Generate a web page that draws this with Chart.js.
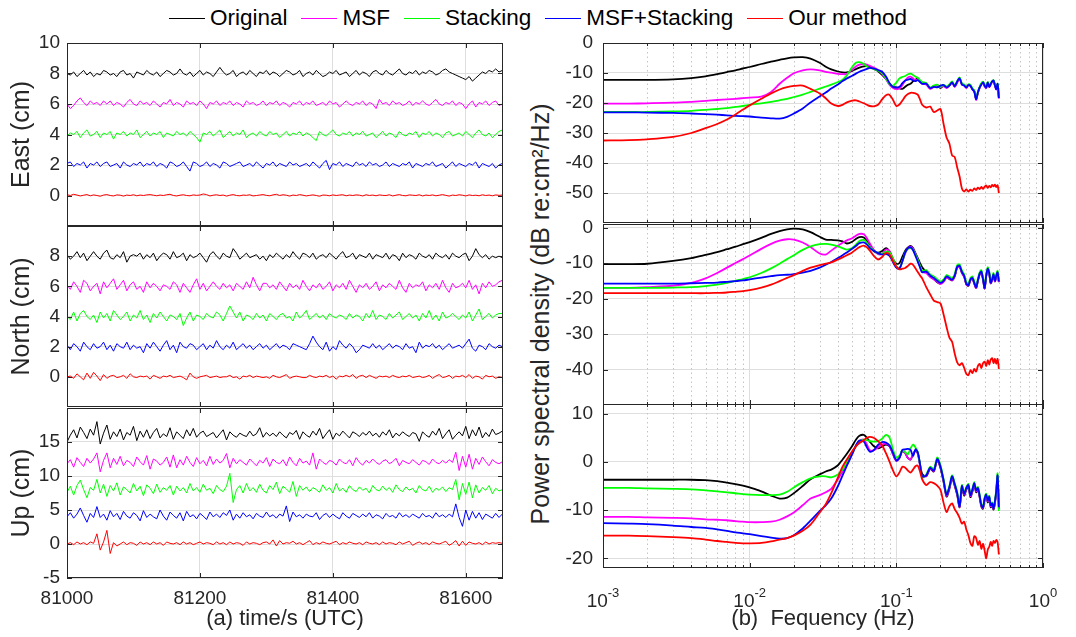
<!DOCTYPE html>
<html>
<head>
<meta charset="utf-8">
<script src="https://cdn.jsdelivr.net/npm/chart.js@4.4.0/dist/chart.umd.min.js"></script>
<style>
  body { margin: 0; background: #fff; width: 1076px; height: 637px; position: relative; overflow: hidden;
         font-family: "Liberation Sans", Arial, Helvetica, sans-serif; color: #262626; }
  canvas { display: block; }
  #legend { position: absolute; top: 5px; left: 0; width: 1076px; display: flex; justify-content: center;
            gap: 14px; font-size: 22.5px; color: #000; }
  #legend .item { display: flex; align-items: center; white-space: nowrap; }
  #legend .item i { display: inline-block; width: 36px; border-top: 1.5px solid; margin-right: 5px; }
  #psdTitle { position: absolute; left: 540px; top: 314px; transform: translate(-50%, -50%) rotate(-90deg);
              white-space: nowrap; font-size: 25px; }
</style>
</head>
<body>
<div id="legend"></div>
<div id="psdTitle">Power spectral density (dB re:cm²/Hz)</div>
<script>
// ---- data ----
const seriesNames = ['Original', 'MSF', 'Stacking', 'MSF+Stacking', 'Our method'];

// (a) time series, one sample every 5 s starting at 81000 s
const tStart = 81000, tStep = 5;
const timeTicks = [81000, 81200, 81400, 81600];

const eastOrig = [8.0,7.9,8.1,7.8,8.0,8.2,7.9,8.1,7.8,8.0,7.9,8.2, 8.1,7.9,8.0,7.8,8.1,8.2,7.9,8.0,7.7,8.1,8.0,7.9,
  8.2,8.0,7.9,8.1,7.8,8.0,8.2,8.1,7.9,8.0,8.3,8.0, 7.9,8.1,7.8,8.0,8.2,7.9,8.1,8.0,7.8,8.1,8.4,8.1,
  7.9,8.0,8.2,7.8,8.0,8.1,7.9,8.2,8.0,7.8,8.1,8.0, 8.2,7.9,8.1,8.0,7.8,8.0,8.2,8.1,7.9,8.0,8.2,7.8,
  8.0,8.1,7.9,8.2,8.0,7.8,7.9,8.1,8.0,8.2,7.9,8.0, 8.1,7.8,8.0,8.2,7.9,8.1,8.0,7.8,8.1,8.2,8.0,7.9,
  8.2,8.0,7.9,8.1,8.3,8.0,7.9,8.1,8.0,8.2,7.9,8.1, 8.0,8.2,8.1,7.9,8.0,8.2,8.3,8.1,8.0,7.9,7.8,7.7,
  7.6,7.8,7.5,7.7,7.9,8.1,8.0,8.2,8.1,8.3,8.1,8.2];
const eastMsf = [6.0,5.7,5.9,6.2,6.4,6.1,5.9,6.2,6.0,6.1,5.9,6.2, 6.0,6.2,5.9,6.1,6.0,5.8,6.1,6.3,6.0,5.9,6.2,6.0,
  6.1,5.9,6.2,6.0,5.8,6.1,6.0,6.3,5.9,6.1,6.0,5.8, 6.2,6.0,6.1,5.9,6.2,6.0,5.7,6.1,6.0,6.2,5.9,6.1,
  6.0,6.2,5.9,6.1,6.0,5.8,6.2,6.0,6.1,5.9,6.0,6.2, 5.9,6.1,6.0,6.2,5.9,6.1,6.0,5.8,6.1,6.0,6.2,5.9,
  6.1,6.0,6.2,5.9,6.0,6.1,5.9,6.2,6.0,6.1,5.8,6.0, 6.2,6.0,5.9,6.1,6.0,6.2,5.9,6.1,6.0,5.7,6.3,6.0,
  6.1,5.9,6.2,6.0,6.1,5.9,6.0,6.2,5.9,6.1,6.0,6.2, 6.0,5.9,6.1,6.3,6.0,5.9,6.1,6.0,6.2,5.9,6.1,6.0,
  5.7,6.0,6.2,5.8,6.1,6.0,6.2,5.9,6.1,6.2,5.9,6.0];
const eastStk = [3.9,4.1,4.0,4.2,3.8,4.1,4.3,3.9,4.0,4.2,3.8,4.1, 4.0,4.2,3.7,4.1,4.0,4.2,3.9,4.1,4.0,4.3,3.8,4.0,
  4.2,3.9,4.1,4.0,4.2,3.8,4.1,4.0,3.9,4.2,4.0,4.1, 3.9,4.2,4.0,3.8,3.5,4.1,4.0,4.2,3.9,4.1,4.3,3.8,
  4.0,4.2,3.9,4.1,4.0,4.3,3.8,4.0,4.1,3.9,4.2,4.0, 3.9,4.2,4.0,4.1,3.8,4.0,4.2,3.9,4.1,4.0,4.2,3.9,
  4.1,4.0,3.8,3.6,4.2,4.0,3.9,4.1,4.3,4.0,3.9,4.1, 4.0,4.2,3.9,4.1,4.0,4.2,3.9,4.0,4.1,3.8,4.0,4.2,
  3.9,4.1,4.0,3.8,4.2,4.0,3.9,4.1,4.0,4.2,3.8,4.1, 4.0,4.2,3.9,4.1,4.0,3.8,4.1,4.2,3.9,4.0,4.1,3.9,
  4.2,4.0,3.8,4.1,4.3,4.0,3.9,4.1,3.8,4.0,4.2,4.3];
const eastMs = [2.1,2.2,1.9,2.1,2.0,2.2,1.8,2.1,2.0,2.2,1.9,2.1, 2.2,1.9,2.0,2.1,1.8,2.2,2.0,1.9,2.1,2.0,2.2,1.9,
  2.1,2.0,2.2,1.9,2.1,2.0,1.8,2.2,2.1,1.9,2.0,2.2, 1.9,1.6,2.2,2.1,1.9,2.0,2.2,1.9,2.1,2.0,1.8,2.2,
  2.1,1.9,2.0,2.1,2.2,1.9,2.0,2.1,1.9,2.2,2.0,1.8, 2.1,2.0,2.2,1.9,2.1,2.0,1.9,2.2,2.0,2.1,1.9,2.0,
  2.1,1.9,2.2,2.0,1.8,2.1,2.3,1.7,2.1,2.0,2.2,1.9, 2.1,2.0,1.9,2.2,2.0,2.1,1.9,2.2,2.0,2.1,1.9,2.0,
  2.2,1.9,2.1,2.0,1.9,2.1,2.0,2.2,1.8,2.1,2.0,1.9, 2.1,2.0,2.2,1.9,2.0,2.1,1.8,2.0,2.2,1.9,2.1,2.0,
  1.9,2.1,2.0,2.2,1.8,2.1,2.0,1.9,2.1,1.8,2.0,2.1];
const eastOur = [0.05,0.00,0.08,0.03,-0.03,0.02,0.06,-0.02,0.04,0.00,-0.05,0.03, 0.06,0.00,-0.03,0.04,0.02,-0.04,0.03,0.00,0.05,-0.02,0.03,0.00,
  0.04,0.06,0.02,-0.02,0.03,0.00,0.05,0.08,0.00,-0.03,0.02,0.05, 0.00,-0.02,0.04,0.01,0.03,0.10,0.06,-0.03,0.02,0.05,0.00,0.03,
  -0.04,0.02,0.06,0.00,-0.02,0.03,0.01,0.05,-0.03,0.00,0.03,0.06, 0.01,-0.02,0.04,0.08,0.00,0.05,0.02,-0.04,0.03,0.00,0.06,0.02,
  -0.03,0.01,0.04,0.00,-0.05,0.03,0.02,-0.02,0.04,0.00,0.03,0.05, -0.02,0.03,0.00,0.04,0.02,-0.03,0.05,0.00,0.03,-0.02,0.04,0.01,
  0.00,0.05,-0.03,0.02,0.06,0.00,-0.02,0.04,0.02,0.00,0.05,-0.03, 0.03,0.00,0.04,-0.02,0.02,0.06,0.01,-0.04,0.03,0.00,0.05,0.02,
  -0.03,0.04,0.00,0.02,-0.02,0.05,0.00,0.03,-0.02,0.04,0.01,0.03];

const northOrig = [8.1,7.8,8.0,8.3,7.9,8.2,7.7,8.0,8.3,8.0,7.8,8.2, 8.4,7.9,7.8,8.1,7.9,8.3,7.6,8.0,8.1,8.0,8.2,7.8,
  8.1,7.9,8.2,7.7,8.0,8.2,8.1,7.8,8.3,7.9,8.0,8.2, 7.7,8.1,7.9,8.0,8.2,7.9,7.6,8.1,8.3,8.0,7.8,8.2,
  8.0,7.9,8.5,8.2,7.8,8.0,8.2,7.9,8.0,8.1,7.8,8.0, 7.7,8.1,7.9,8.2,8.0,7.8,8.1,7.9,8.3,8.0,7.8,8.2,
  8.1,7.9,8.2,7.8,8.0,8.1,7.9,8.2,8.0,7.8,8.1,8.3, 7.9,8.0,8.2,7.8,8.1,8.0,7.9,8.2,7.8,8.1,8.0,7.9,
  8.2,7.8,8.1,8.0,7.7,8.2,7.9,8.1,8.0,7.8,8.2,8.0, 7.9,8.1,7.8,8.2,8.0,7.9,8.1,7.8,8.2,8.0,7.9,8.1,
  8.2,7.7,8.0,8.5,8.1,7.9,8.1,7.8,8.0,7.9,8.0,7.9];
const northMsf = [6.1,5.8,6.3,6.0,5.6,6.4,6.2,5.7,6.0,6.2,5.5,6.3, 5.9,6.2,6.5,5.8,6.1,6.4,5.7,6.1,6.3,5.8,6.0,5.6,
  6.3,5.9,6.2,6.0,5.7,6.1,6.0,5.8,6.3,6.1,5.6,6.2, 5.9,5.6,6.1,6.5,5.8,6.2,5.7,6.0,6.3,6.0,5.8,6.2,
  5.9,6.1,5.7,6.2,6.0,5.8,6.3,5.9,6.6,6.1,5.7,6.2, 6.2,5.9,6.1,5.8,6.3,6.0,5.7,6.2,5.9,6.1,5.8,6.4,
  6.0,5.7,6.1,5.9,6.2,5.8,6.0,6.3,5.7,6.1,5.9,6.2, 5.8,6.4,6.0,5.6,6.1,5.9,6.2,5.8,6.0,6.3,5.7,6.1,
  5.9,6.2,6.0,5.8,6.4,5.9,5.6,6.2,5.9,6.1,6.0,6.3, 5.7,6.1,5.9,6.2,5.8,6.4,5.9,5.6,6.2,5.9,6.0,6.2,
  5.9,6.4,5.8,6.1,5.5,6.2,5.9,6.3,6.0,6.1,6.3,6.4];
const northStk = [4.0,3.8,4.3,3.7,4.2,4.4,4.0,3.8,4.1,3.6,4.3,3.9, 4.2,3.7,4.4,4.1,3.8,4.0,4.3,3.7,4.1,3.9,4.4,3.8,
  4.1,3.6,4.2,3.9,4.3,4.0,3.7,4.1,4.0,3.8,4.2,3.4, 3.9,4.3,3.7,4.1,4.0,3.8,4.2,4.0,3.9,4.3,4.1,3.7,
  4.2,4.7,4.3,3.9,4.3,3.7,4.1,4.0,3.8,4.2,3.9,4.1, 3.7,4.2,4.0,3.8,4.1,4.2,3.9,4.0,3.7,4.3,3.9,4.1,
  4.4,3.8,4.0,4.2,3.9,4.1,3.8,4.2,4.0,3.9,4.1,4.0, 3.8,4.2,3.9,4.1,4.0,3.7,4.2,3.9,4.4,3.8,4.1,4.0,
  3.8,4.2,3.9,4.1,4.3,3.8,4.0,4.2,3.9,4.1,3.7,4.2, 3.9,4.4,3.8,4.1,3.7,4.3,3.9,4.0,4.2,4.0,3.8,4.1,
  3.9,4.3,3.7,4.1,4.5,3.8,4.0,4.2,3.9,4.1,4.2,4.2];
const northMs = [2.1,1.8,2.2,2.0,1.7,2.3,2.0,1.8,2.2,1.9,2.0,2.3, 1.8,2.1,1.7,2.2,2.0,1.9,2.3,1.8,2.1,1.9,2.0,1.6,
  2.2,1.9,2.3,2.0,1.7,2.1,2.4,1.8,2.1,1.6,2.3,2.0, 1.9,2.2,2.1,1.8,2.0,2.2,1.8,2.1,1.9,2.4,2.0,1.8,
  2.1,1.9,2.3,1.8,2.0,2.2,1.9,2.1,1.8,2.0,2.2,1.9, 2.1,1.8,2.0,2.2,1.9,2.1,2.0,1.8,2.2,2.1,2.0,1.9,
  1.8,2.2,2.7,2.3,2.0,1.8,2.3,1.7,2.0,1.8,2.4,2.1, 1.9,2.2,2.0,1.6,1.8,2.1,2.0,1.9,2.2,1.9,2.1,1.8,
  2.0,2.2,1.9,2.1,2.0,1.8,2.2,1.9,2.0,1.6,2.3,1.9, 2.1,2.0,2.2,1.9,2.1,1.8,2.0,2.2,1.9,2.0,2.1,1.9,
  2.2,2.5,1.9,1.7,2.1,2.0,1.8,2.2,2.0,1.9,2.1,2.0];
const northOur = [0.00,0.05,-0.10,0.20,0.00,-0.20,0.25,-0.10,0.30,0.05,-0.25,0.15, -0.10,0.05,0.10,-0.05,0.00,0.10,-0.10,0.20,0.00,-0.05,0.05,0.00,
  0.05,-0.15,0.10,0.00,-0.10,0.05,0.00,0.10,-0.05,0.00,0.05,-0.05, -0.20,0.25,0.00,-0.10,0.00,0.05,0.10,-0.05,0.00,0.05,-0.05,0.00,
  0.00,0.10,-0.05,0.00,-0.15,0.05,0.00,0.10,-0.05,0.05,0.00,-0.05, 0.00,-0.10,0.10,0.00,-0.05,0.05,0.15,-0.10,0.00,0.05,0.00,-0.05,
  -0.05,0.10,0.00,-0.05,0.05,0.00,0.10,-0.05,0.05,-0.15,0.05,0.00, 0.10,0.00,0.15,-0.10,0.05,0.10,-0.05,0.10,0.00,-0.10,0.05,0.00,
  0.05,-0.05,0.10,0.00,-0.05,0.05,0.00,0.10,-0.05,0.00,0.05,-0.05, 0.00,0.10,-0.10,0.05,0.15,-0.05,0.00,0.10,-0.10,0.05,0.00,0.10,
  -0.05,0.15,-0.10,0.05,0.00,-0.15,0.10,0.00,0.05,-0.10,0.00,-0.05];

const upOrig = [15.0,16.0,16.8,15.6,17.2,16.4,15.5,16.9,16.0,18.0,14.7,16.3, 17.5,15.4,16.5,15.8,16.9,15.3,16.4,16.0,17.3,15.2,16.6,15.7,
  16.8,15.5,16.4,17.0,15.6,16.2,15.8,17.1,15.4,16.5,16.0,15.5, 16.8,15.9,17.0,15.7,16.3,16.6,15.8,16.1,16.4,15.6,16.2,16.8,
  15.3,16.5,16.0,15.7,16.3,16.0,15.8,16.6,15.9,16.2,17.1,15.7, 16.4,15.9,16.3,15.8,16.5,16.0,15.6,16.4,16.1,16.7,15.4,16.5,
  16.0,15.7,16.6,16.0,17.0,15.5,16.2,16.8,15.4,16.3,15.9,16.6, 16.1,15.6,16.5,16.2,15.8,16.4,16.0,16.6,15.9,16.3,15.7,16.5,
  16.0,16.8,15.6,16.3,15.9,16.5,16.1,15.8,16.4,16.2,15.1,16.5, 16.0,15.7,16.6,16.0,17.0,15.5,16.2,16.8,15.4,16.0,16.5,15.9,
  17.3,15.5,16.8,15.9,17.2,15.6,16.4,15.8,16.9,16.1,16.3,16.6];
const upMsf = [11.8,12.4,11.3,12.7,12.0,11.4,12.6,11.9,12.5,13.4,10.6,12.3, 13.4,11.2,12.6,11.7,12.9,11.5,12.3,12.0,11.4,12.8,12.1,11.6,
  13.0,11.0,12.5,12.2,11.6,12.0,12.8,11.3,13.1,11.2,12.4,11.6, 12.9,12.0,11.4,12.7,11.8,12.3,11.5,12.9,11.7,12.5,11.9,12.3,
  13.3,11.2,12.6,11.8,12.4,12.0,11.6,12.5,12.0,11.5,12.3,11.9, 12.7,11.4,12.5,12.0,11.8,12.4,11.5,12.8,12.0,11.5,12.6,11.9,
  12.2,11.6,13.4,11.0,12.5,12.0,11.7,12.3,12.1,11.6,12.5,12.0, 11.8,12.4,11.5,12.7,12.0,11.6,12.3,11.9,12.5,12.0,11.7,12.2,
  12.4,11.8,12.1,12.6,11.5,12.3,12.0,11.8,12.4,12.0,11.6,12.3, 12.1,11.7,12.5,12.0,11.8,12.3,11.9,12.4,12.0,13.5,10.8,12.9,
  11.3,13.2,11.0,12.6,11.7,12.8,12.1,11.5,12.4,12.0,11.8,12.1];
const upStk = [7.6,8.5,7.2,8.6,9.4,8.0,6.8,8.3,7.9,9.5,7.5,8.8, 7.0,8.6,7.8,9.0,7.2,8.4,8.0,7.5,8.9,7.8,8.5,7.1,
  8.7,8.2,7.4,8.8,7.6,8.3,7.9,8.6,7.2,8.5,7.8,8.3, 7.5,8.9,7.8,8.3,7.6,8.8,7.9,8.2,7.4,8.6,8.0,7.7,
  8.5,10.4,6.1,8.0,8.6,7.5,8.9,7.8,8.3,7.6,8.8,7.9, 7.5,8.6,8.0,9.1,7.4,8.5,8.1,7.6,9.2,7.0,8.6,7.9,
  8.4,7.7,8.3,8.0,7.6,8.7,7.9,8.3,7.5,8.9,7.8,8.2, 7.6,8.6,8.0,7.7,8.4,7.9,8.2,7.5,8.6,8.0,7.8,8.5,
  7.9,8.3,7.6,8.7,8.0,7.7,8.4,7.9,8.2,7.5,8.6,8.0, 7.8,8.5,7.6,8.2,7.9,8.4,7.7,8.3,8.0,9.5,6.5,8.9,
  7.3,9.1,6.8,8.7,7.5,8.3,7.9,8.6,7.4,8.2,7.8,8.0];
const upMs = [4.0,4.6,3.8,4.4,5.3,4.2,3.2,4.5,3.9,5.5,3.9,4.4, 3.5,4.9,4.0,4.5,3.6,4.8,4.1,3.8,4.6,4.2,3.4,4.9,
  3.9,4.4,4.0,3.7,5.0,4.1,3.5,4.7,4.2,3.8,4.6,3.4, 4.8,4.0,4.3,3.7,4.5,4.1,3.6,4.7,4.0,4.4,3.9,4.6,
  4.2,5.0,3.5,4.4,3.8,4.6,4.0,4.3,3.7,4.5,4.1,3.9, 4.7,4.0,4.3,3.8,4.4,4.1,5.6,3.3,4.7,4.0,4.3,3.8,
  4.4,4.1,4.0,4.6,3.6,4.2,4.5,3.9,4.4,4.0,3.7,4.6, 4.1,3.8,4.5,4.2,3.9,4.4,4.0,4.6,3.8,4.3,4.1,3.7,
  4.5,4.0,4.2,3.8,4.6,4.0,4.3,3.9,4.4,4.1,3.8,4.5, 4.0,4.2,3.8,4.6,4.0,4.3,3.9,4.4,4.0,5.9,3.9,2.6,
  5.0,3.5,4.8,3.8,4.6,3.6,4.4,4.1,3.8,4.5,3.9,4.4];
const upOur = [0.0,0.2,-0.1,0.3,0.0,0.2,-0.1,0.3,0.1,1.5,-0.9,0.3, 2.0,-1.4,0.2,-0.3,0.0,0.3,-0.1,0.2,0.1,-0.2,0.3,0.0,
  0.2,-0.1,0.3,0.0,0.2,-0.2,0.3,0.1,0.0,0.2,-0.1,0.3, 0.0,0.2,-0.1,0.1,0.3,0.0,0.2,0.1,-0.1,0.3,0.0,0.2,
  -0.1,0.3,0.0,0.2,0.1,-0.2,0.3,0.0,0.2,0.1,-0.1,0.2, 0.3,0.0,0.6,-0.3,0.5,0.0,0.2,0.1,0.4,0.0,0.2,-0.1,
  0.2,0.5,-0.1,0.2,0.0,0.3,0.1,0.0,0.2,0.4,-0.1,0.2, 0.0,0.3,0.1,0.0,0.2,-0.1,0.3,0.1,0.0,0.2,-0.1,0.3,
  0.0,0.2,0.1,-0.1,0.3,0.0,0.2,0.4,-0.2,0.1,0.3,0.0, 0.2,-0.1,0.3,0.1,0.0,0.2,0.4,-0.2,0.1,0.5,-0.3,0.4,
  -0.2,0.3,0.1,0.0,0.2,-0.1,0.3,0.0,0.2,0.1,0.2,0.1];

// (b) power spectral density, dB re:cm^2/Hz
const freq = [0.001,0.0015,0.002,0.003,0.004,0.005,0.006,0.007,0.008,0.009,
  0.01,0.012,0.014,0.016,0.018,0.02,0.023,0.026,0.03,0.033,
  0.036,0.04,0.043,0.046,0.05,0.053,0.056,0.06,0.063,0.066,
  0.07,0.075,0.08,0.085,0.09,0.095,0.1,0.105,0.11,0.115,
  0.12,0.125,0.13,0.135,0.14,0.145,0.15,
  0.16,0.17,0.18,0.19,0.2,0.21,0.22,0.23,0.24,0.25,0.26,0.27,0.28,0.29,0.3,
  0.31,0.32,0.33,0.34,0.35,0.36,0.37,0.38,0.39,0.4,0.41,0.42,0.43,0.44,0.45,0.46,0.47,0.48,0.49,0.5];
const freqTicks = [0.001, 0.01, 0.1, 1];
const freqExponents = ['-3', '-2', '-1', '0'];

const psdEOrig = [-12.3,-12.3,-12.3,-12.1,-11.7,-11.1,-10.4,-9.7,-9.1,-8.5,
  -8.0,-7.0,-6.2,-5.6,-5.1,-4.8,-4.7,-5.2,-6.6,-7.9, -8.8,-9.5,-9.8,-9.8,-9.3,-8.7,-8.2,-7.8,-7.7,-8.0,
  -8.6,-9.4,-10.6,-12.0,-13.6,-14.6,-14.8,-15.1,-15.3,-14.6, -13.9,-13.6,-12.8,-12.2,-11.9,-12.6,-13.2,
  -13.5,-15.1,-14.4,-14.2,-15.0,-14.2,-14.8,-14.0,-13.1,-14.5,-13.0,-11.8,-13.7,-14.0,-14.8,
  -14.0,-14.2,-15.3,-16.0,-18.7,-16.5,-14.8,-13.6,-13.1,-14.3,-14.8,-13.2,-14.5,-13.7,-12.9,-12.6,-14.0,-15.3,-13.8,-18.2];
const psdEMsf = [-20.2,-20.2,-20.1,-19.9,-19.6,-19.3,-19.0,-18.8,-18.6,-18.4,
  -18.2,-17.9,-16.3,-13.6,-11.6,-10.1,-9.1,-8.8,-9.1,-9.6, -9.9,-10.3,-10.4,-10.3,-8.9,-7.8,-7.2,-7.0,-7.2,-7.6,
  -8.2,-9.0,-10.3,-12.0,-14.0,-15.0,-15.4,-15.2,-14.0,-12.5, -11.5,-11.2,-11.8,-12.4,-12.2,-12.8,-13.6,
  -13.8,-15.3,-14.6,-14.0,-14.8,-14.4,-15.0,-14.2,-13.3,-14.6,-13.2,-12.0,-13.9,-14.2,-15.0,
  -14.1,-14.4,-15.5,-16.3,-19.0,-16.6,-15.0,-13.8,-13.3,-14.5,-15.0,-13.4,-14.7,-13.9,-13.0,-12.8,-14.2,-15.5,-14.0,-18.5];
const psdEStk = [-23.0,-23.0,-23.0,-22.8,-22.6,-22.3,-22.0,-21.7,-21.3,-21.0,
  -20.6,-20.1,-19.6,-19.1,-18.6,-18.0,-17.2,-16.3,-15.2,-14.5, -13.9,-13.0,-12.2,-10.8,-8.0,-6.6,-6.4,-7.0,-7.8,-8.3,
  -8.6,-9.2,-10.0,-11.8,-13.8,-14.2,-13.2,-11.8,-11.3,-11.0, -10.4,-10.2,-10.7,-11.2,-11.6,-12.4,-13.0,
  -13.4,-14.8,-14.2,-13.9,-14.6,-14.0,-14.5,-13.8,-12.8,-14.2,-12.7,-11.5,-13.5,-13.8,-14.6,
  -13.8,-14.0,-15.1,-15.8,-18.5,-16.2,-14.6,-13.4,-12.9,-14.1,-14.6,-13.0,-14.3,-13.5,-12.7,-12.4,-13.8,-15.1,-13.6,-18.0];
const psdEMs = [-23.1,-23.1,-23.2,-23.3,-23.5,-23.7,-23.9,-24.1,-24.3,-24.4,
  -24.5,-24.9,-25.1,-25.2,-24.6,-23.5,-21.8,-19.8,-17.8,-16.5, -15.2,-13.8,-12.7,-11.8,-10.9,-10.2,-9.6,-9.0,-8.6,-8.3,
  -8.5,-9.0,-9.6,-11.2,-13.4,-14.7,-14.9,-14.6,-13.4,-12.5, -12.2,-12.0,-12.5,-12.7,-12.4,-13.0,-13.6,
  -13.6,-15.0,-14.6,-14.8,-14.2,-14.0,-14.8,-14.2,-13.1,-14.4,-12.8,-11.8,-13.8,-14.2,-14.8,
  -14.0,-14.3,-15.4,-16.2,-18.8,-16.4,-14.8,-13.8,-13.1,-14.2,-14.9,-13.2,-14.6,-13.7,-12.8,-12.5,-14.1,-15.4,-13.6,-18.4];
const psdEOur = [-32.5,-32.4,-32.1,-31.3,-30.0,-28.4,-27.0,-25.5,-23.8,-22.2,
  -20.8,-18.6,-16.8,-15.5,-14.7,-14.3,-14.2,-15.3,-16.8,-18.4, -20.2,-21.0,-20.6,-19.8,-19.2,-19.1,-19.5,-20.1,-20.6,-21.0,
  -21.1,-20.6,-18.8,-17.4,-17.3,-19.0,-21.0,-20.5,-19.2,-17.8, -17.0,-16.6,-16.6,-16.8,-17.2,-18.8,-20.6,
  -21.5,-21.2,-23.0,-22.5,-22.0,-27.0,-31.5,-33.5,-37.5,-38.0,-41.5,-44.5,-48.5,-49.5,-48.8,
  -49.5,-48.9,-49.3,-48.5,-49.0,-48.2,-48.7,-48.0,-48.6,-47.9,-47.5,-48.3,-47.6,-48.1,-47.3,-47.8,-47.2,-48.0,-47.4,-50.0];

const psdNOrig = [-10.3,-10.3,-10.2,-9.4,-8.6,-7.7,-6.9,-6.1,-5.4,-4.7,
  -4.1,-2.9,-1.8,-1.0,-0.5,-0.3,-0.5,-1.3,-2.6,-3.4, -3.5,-3.6,-3.9,-4.5,-4.0,-3.2,-2.7,-2.8,-3.8,-5.2,
  -6.6,-7.1,-6.6,-5.8,-6.8,-8.9,-10.2,-10.0,-8.2,-6.5, -5.6,-5.2,-5.8,-7.2,-8.6,-10.0,-11.2,
  -12.6,-13.8,-14.5,-15.4,-15.8,-15.2,-14.0,-14.5,-14.9,-13.8,-11.2,-11.0,-12.8,-13.8,-16.0,
  -16.4,-14.8,-14.5,-15.8,-17.0,-15.0,-13.2,-12.6,-14.7,-17.2,-13.7,-11.8,-13.0,-15.7,-14.8,-13.4,-15.2,-13.8,-12.8,-15.4];
const psdNMsf = [-17.0,-17.0,-16.8,-16.4,-15.6,-14.3,-12.8,-11.3,-10.0,-8.9,
  -7.9,-6.0,-4.6,-3.7,-3.3,-3.4,-4.2,-5.5,-7.3,-7.6, -6.5,-5.1,-4.3,-3.6,-3.0,-2.3,-1.8,-1.9,-3.0,-4.5,
  -6.2,-7.5,-7.4,-6.2,-6.6,-9.0,-11.0,-11.5,-9.5,-7.2, -5.8,-5.4,-6.0,-7.5,-9.2,-11.0,-12.5,
  -12.8,-13.9,-14.6,-15.3,-15.9,-15.3,-14.1,-14.4,-14.9,-13.7,-11.3,-11.1,-12.7,-13.9,-16.0,
  -16.3,-14.8,-14.4,-15.8,-17.0,-14.9,-13.2,-12.6,-14.6,-17.1,-13.6,-11.8,-13.0,-15.6,-14.8,-13.4,-15.1,-13.8,-12.8,-15.3];
const psdNStk = [-17.0,-17.0,-17.0,-16.9,-16.8,-16.5,-16.1,-15.6,-15.0,-14.5,
  -14.0,-12.8,-11.5,-10.2,-8.9,-7.8,-6.3,-5.3,-4.7,-4.6, -4.8,-5.3,-5.8,-6.2,-5.8,-4.8,-3.8,-3.5,-4.3,-5.5,
  -6.4,-7.2,-7.4,-6.8,-7.0,-8.8,-11.0,-11.6,-9.5,-7.0, -6.0,-5.8,-6.2,-7.6,-9.0,-10.8,-12.2,
  -12.0,-13.2,-13.8,-14.6,-15.2,-14.6,-13.4,-13.8,-14.3,-13.1,-10.6,-10.4,-12.1,-13.2,-15.4,
  -15.8,-14.2,-13.8,-15.2,-16.4,-14.4,-12.6,-12.0,-14.1,-16.6,-13.1,-11.2,-12.4,-15.1,-14.2,-12.8,-14.6,-13.2,-12.2,-14.8];
const psdNMs = [-15.8,-15.8,-15.8,-15.8,-15.7,-15.6,-15.5,-15.3,-15.1,-14.9,
  -14.6,-14.1,-13.7,-13.4,-13.3,-13.1,-12.7,-12.2,-11.3,-10.5, -9.7,-8.6,-7.8,-7.0,-6.0,-5.2,-4.4,-4.2,-4.8,-5.8,
  -6.5,-7.2,-7.6,-7.4,-8.0,-9.8,-11.3,-11.6,-9.5,-7.0, -5.8,-5.6,-6.4,-8.0,-9.6,-11.2,-12.6,
  -12.4,-13.5,-14.2,-15.0,-15.6,-15.0,-13.8,-14.2,-14.7,-13.5,-11.0,-10.8,-12.5,-13.6,-15.8,
  -16.2,-14.6,-14.2,-15.6,-16.8,-14.8,-13.0,-12.4,-14.5,-17.0,-13.5,-11.6,-12.8,-15.5,-14.6,-13.2,-15.0,-13.6,-12.6,-15.2];
const psdNOur = [-18.5,-18.5,-18.5,-18.5,-18.5,-18.5,-18.4,-18.3,-18.1,-17.9,
  -17.6,-16.9,-16.1,-15.1,-14.2,-13.4,-12.2,-11.3,-10.6,-10.2, -9.8,-9.0,-8.4,-7.8,-7.0,-6.2,-5.5,-5.1,-5.6,-6.5,
  -7.9,-9.0,-8.3,-7.2,-7.6,-9.5,-11.0,-11.8,-11.6,-11.4, -10.8,-10.2,-10.5,-11.5,-12.5,-13.5,-14.3,
  -16.8,-18.8,-20.6,-21.0,-21.4,-24.5,-28.0,-31.0,-32.2,-35.5,-38.0,-38.8,-38.2,-39.5,-41.2,
  -41.6,-40.2,-41.0,-39.8,-40.6,-39.0,-38.4,-39.6,-38.2,-37.8,-39.0,-37.4,-38.6,-37.2,-36.8,-38.2,-37.0,-38.4,-37.0,-39.8];

const psdUOrig = [-3.7,-3.7,-3.7,-3.7,-3.7,-3.8,-4.0,-4.3,-4.6,-4.9,
  -5.3,-6.1,-7.0,-7.6,-7.4,-6.5,-5.0,-3.6,-2.6,-2.0, -1.6,-0.7,0.5,1.7,3.3,4.6,5.4,5.6,5.0,4.2,
  3.3,2.8,3.2,3.6,3.2,1.6,0.3,0.9,2.3,1.8, 0.8,0.5,1.5,2.3,1.8,-0.5,-2.5,
  -3.0,-1.4,-2.0,0.3,-1.3,-4.2,-7.2,-5.6,-3.4,-5.0,-6.9,-9.4,-5.4,-7.0,-5.8,
  -5.2,-7.3,-6.2,-4.8,-6.3,-5.8,-7.4,-9.3,-9.7,-8.0,-7.2,-8.4,-7.6,-9.4,-9.0,-9.9,-8.6,-6.4,-3.2,-9.7];
const psdUMsf = [-11.4,-11.4,-11.5,-11.6,-11.7,-11.9,-12.0,-12.1,-12.3,-12.4,
  -12.5,-12.5,-12.4,-12.0,-11.3,-10.5,-9.0,-7.6,-6.9,-6.3, -5.6,-3.6,-2.0,-0.5,1.6,3.3,4.3,4.6,3.6,2.4,
  2.4,3.0,3.6,3.8,3.2,1.5,0.2,0.9,2.3,1.8, 0.8,0.5,1.6,2.4,1.7,-0.8,-3.0,
  -2.9,-1.3,-1.9,0.4,-1.1,-4.0,-7.0,-5.4,-3.2,-4.8,-6.7,-9.3,-5.2,-6.8,-5.6,
  -5.0,-7.1,-6.0,-4.6,-6.1,-5.6,-7.2,-9.1,-9.5,-7.8,-7.0,-8.2,-7.4,-9.2,-8.8,-9.7,-8.4,-6.2,-3.0,-9.5];
const psdUStk = [-5.4,-5.4,-5.5,-5.6,-5.7,-5.9,-6.1,-6.3,-6.5,-6.7,
  -6.8,-6.9,-6.9,-6.8,-6.2,-5.3,-4.2,-3.4,-3.0,-3.0, -3.2,-2.6,-1.6,0.0,1.8,3.2,4.2,4.6,4.5,4.3,
  4.2,4.3,4.8,5.6,5.0,2.5,0.9,1.3,2.4,2.0, 1.6,2.8,3.6,3.0,2.0,-0.5,-3.2,
  -2.6,-1.0,-1.5,0.9,-0.7,-3.6,-6.6,-5.0,-2.8,-4.4,-6.3,-9.0,-4.8,-6.4,-5.2,
  -4.6,-6.7,-5.6,-4.2,-5.7,-5.2,-6.8,-8.8,-9.2,-7.4,-6.6,-7.8,-7.0,-8.8,-8.4,-9.4,-8.0,-5.8,-2.4,-10.2];
const psdUMs = [-12.7,-12.8,-12.9,-13.2,-13.5,-13.7,-14.0,-14.3,-14.6,-14.8,
  -15.0,-15.4,-15.7,-15.9,-15.8,-15.2,-13.8,-12.2,-10.2,-9.0, -7.6,-5.0,-2.8,-0.8,1.6,3.4,4.4,4.2,3.0,2.1,
  2.4,3.5,4.1,4.0,3.4,1.8,0.3,0.8,2.5,2.6, 2.7,2.5,1.2,2.6,2.0,-0.4,-3.0,
  -2.8,-1.2,-1.8,0.6,-1.0,-3.8,-6.8,-5.2,-3.0,-4.6,-6.5,-9.2,-5.0,-6.6,-5.4,
  -4.8,-6.9,-5.8,-4.4,-5.9,-5.4,-7.0,-9.0,-9.4,-7.6,-6.8,-8.0,-7.2,-9.0,-8.6,-9.6,-8.2,-6.0,-2.8,-9.4];
const psdUOur = [-15.3,-15.3,-15.4,-15.6,-15.8,-16.1,-16.4,-16.6,-16.8,-16.9,
  -16.9,-16.8,-16.5,-16.1,-15.8,-15.3,-14.3,-13.0,-10.5,-8.8, -6.5,-3.2,-1.0,0.5,2.2,3.2,3.9,4.5,5.0,5.2,
  5.0,4.3,3.4,1.8,0.0,-1.8,-3.0,-2.2,-1.0,-1.2, -1.8,-2.2,-1.6,-0.9,-0.8,-2.0,-3.6,
  -4.8,-4.2,-4.4,-4.9,-5.8,-8.5,-10.4,-9.2,-8.6,-9.8,-10.6,-11.6,-12.8,-12.4,-14.0,
  -15.2,-16.8,-17.4,-15.4,-15.8,-17.2,-16.4,-18.0,-17.0,-18.4,-20.0,-18.2,-17.6,-16.6,-17.4,-16.4,-16.8,-16.2,-16.6,-19.2];

// ---- styling ----
const seriesColors = ['#000000', '#ff00ff', '#00ff00', '#0000ff', '#ff0000'];
const FONT = '"Liberation Sans", Arial, Helvetica, sans-serif';
const GRID = '#dedede';
const AXIS = '#262626';
Chart.defaults.font.family = FONT;
Chart.defaults.color = AXIS;

// legend
const lg = document.getElementById('legend');
seriesNames.forEach((n, i) => {
  const it = document.createElement('span');
  it.className = 'item';
  it.innerHTML = '<i style="border-top-color:' + seriesColors[i] + '"></i>' + n;
  lg.appendChild(it);
});

// box around each axes, inward ticks, dotted minor grid and 10^n labels on log axes
const frame = {
  id: 'frame',
  beforeDatasetsDraw(chart, args, opts) {
    if (!opts.minor) return;
    const { ctx, chartArea: a, scales: { x } } = chart;
    ctx.save();
    ctx.strokeStyle = '#c4c4c4';
    ctx.lineWidth = 1;
    ctx.setLineDash([1.5, 3]);
    for (const d of [0.001, 0.01, 0.1]) {
      for (let m = 2; m <= 9; m++) {
        const px = Math.round(x.getPixelForValue(m * d)) + 0.5;
        ctx.beginPath(); ctx.moveTo(px, a.top); ctx.lineTo(px, a.bottom); ctx.stroke();
      }
    }
    ctx.restore();
  },
  afterDatasetsDraw(chart, args, opts) {
    const { ctx, chartArea: a, scales: { x, y } } = chart;
    ctx.save();
    ctx.strokeStyle = AXIS;
    ctx.lineWidth = 1;
    ctx.beginPath();
    const tl = 5;
    x.ticks.forEach(t => {
      const px = Math.round(x.getPixelForValue(t.value)) + 0.5;
      ctx.moveTo(px, a.bottom); ctx.lineTo(px, a.bottom - tl);
      ctx.moveTo(px, a.top); ctx.lineTo(px, a.top + tl);
    });
    if (opts.minor) {
      for (const d of [0.001, 0.01, 0.1]) {
        for (let m = 2; m <= 9; m++) {
          const px = Math.round(x.getPixelForValue(m * d)) + 0.5;
          ctx.moveTo(px, a.bottom); ctx.lineTo(px, a.bottom - 3);
          ctx.moveTo(px, a.top); ctx.lineTo(px, a.top + 3);
        }
      }
    }
    y.ticks.forEach(t => {
      const py = Math.round(y.getPixelForValue(t.value)) + 0.5;
      ctx.moveTo(a.left, py); ctx.lineTo(a.left + tl, py);
      ctx.moveTo(a.right, py); ctx.lineTo(a.right - tl, py);
    });
    ctx.stroke();
    ctx.strokeRect(a.left + 0.5, a.top + 0.5, a.width - 1, a.height - 1);
    ctx.restore();
  },
  afterDraw(chart, args, opts) {
    if (!opts.powerLabels) return;
    const { ctx, chartArea: a, scales: { x } } = chart;
    ctx.save();
    ctx.fillStyle = AXIS;
    ctx.textBaseline = 'middle';
    ctx.textAlign = 'left';
    const yBase = a.bottom + 34;
    freqTicks.forEach((v, i) => {
      const px = x.getPixelForValue(v);
      ctx.font = '19px ' + FONT;
      const wBase = ctx.measureText('10').width;
      ctx.font = '13px ' + FONT;
      const wExp = ctx.measureText(freqExponents[i]).width;
      const x0 = px - (wBase + wExp) / 2;
      ctx.font = '19px ' + FONT;
      ctx.fillText('10', x0, yBase);
      ctx.font = '13px ' + FONT;
      ctx.fillText(freqExponents[i], x0 + wBase, yBase - 9);
    });
    ctx.restore();
  }
};

const times = eastOrig.map((v, i) => tStart + i * tStep);

function makePanel(box, o) {
  const padTop = 24;
  const padBottom = o.xTitle ? 0 : 24;
  const xH = o.xTitle ? 637 - box.b : 0;
  const yW = box.l - box.cl;
  const w = (box.r - box.cl) + o.padRight;
  const h = padTop + (box.b - box.t) + padBottom + xH;
  const cv = document.createElement('canvas');
  cv.width = w; cv.height = h;
  cv.style.cssText = 'position:absolute;left:' + box.cl + 'px;top:' + (box.t - padTop) + 'px;width:' + w + 'px;height:' + h + 'px';
  document.body.appendChild(cv);

  new Chart(cv, {
    type: 'line',
    data: {
      datasets: o.values.map((vals, i) => ({
        label: seriesNames[i],
        data: vals.map((v, k) => ({ x: o.xs[k], y: v })),
        borderColor: seriesColors[i],
        borderWidth: o.lw,
        pointRadius: 0,
        fill: false,
        tension: o.tension,
        order: 5 - i
      }))
    },
    options: {
      responsive: false,
      animation: false,
      devicePixelRatio: 1,
      layout: { padding: { top: padTop, right: o.padRight, bottom: padBottom, left: 0 } },
      plugins: {
        legend: { display: false }, tooltip: { enabled: false },
        frame: { minor: !!o.log, powerLabels: !!(o.log && o.xTitle) }
      },
      scales: {
        x: {
          type: o.log ? 'logarithmic' : 'linear',
          min: o.xMin, max: o.xMax,
          afterBuildTicks: s => { s.ticks = o.xTicks.map(v => ({ value: v })); },
          afterFit: s => { s.height = xH; },
          grid: { color: GRID, drawTicks: false },
          border: { display: false },
          ticks: {
            display: !!o.xTitle && !o.log, padding: o.xPad, autoSkip: false, maxRotation: 0,
            font: { size: 19 }, color: AXIS, callback: v => String(v)
          },
          title: { display: !!o.xTitle, text: o.xTitle, font: { size: 22 }, color: AXIS,
                   padding: { top: 0, bottom: 5 } }
        },
        y: {
          min: o.yMin, max: o.yMax,
          afterBuildTicks: s => { s.ticks = o.yTicks.map(v => ({ value: v })); },
          afterFit: s => { s.width = yW; },
          grid: { color: GRID, drawTicks: false },
          border: { display: false },
          ticks: { padding: o.yPad, font: { size: 19 }, color: AXIS, callback: v => String(v) },
          title: { display: !!o.yTitle, text: o.yTitle, font: { size: 25 }, color: AXIS,
                   padding: { top: 7, bottom: 0 } }
        }
      }
    },
    plugins: [frame]
  });
}

const leftCommon = { xs: times, xMin: 81000, xMax: 81656, xTicks: timeTicks, lw: 1, tension: 0, padRight: 20, yPad: 7, xPad: 9 };
const rightCommon = { xs: freq, log: true, xMin: 0.001, xMax: 1, xTicks: freqTicks, lw: 1.8, tension: 0.3, padRight: 30, yPad: 10, xPad: 0 };

makePanel({ cl: 0, l: 67, r: 503, t: 43, b: 226 }, Object.assign({}, leftCommon, {
  values: [eastOrig, eastMsf, eastStk, eastMs, eastOur], yMin: -2, yMax: 10, yTicks: [0, 2, 4, 6, 8, 10], yTitle: 'East (cm)' }));
makePanel({ cl: 0, l: 67, r: 503, t: 226, b: 407 }, Object.assign({}, leftCommon, {
  values: [northOrig, northMsf, northStk, northMs, northOur], yMin: -2, yMax: 10, yTicks: [0, 2, 4, 6, 8], yTitle: 'North (cm)' }));
makePanel({ cl: 0, l: 67, r: 503, t: 408, b: 578 }, Object.assign({}, leftCommon, {
  values: [upOrig, upMsf, upStk, upMs, upOur], yMin: -5, yMax: 20, yTicks: [-5, 0, 5, 10, 15], yTitle: 'Up (cm)',
  xTitle: '(a) time/s (UTC)' }));

makePanel({ cl: 540, l: 603, r: 1043, t: 43, b: 223 }, Object.assign({}, rightCommon, {
  values: [psdEOrig, psdEMsf, psdEStk, psdEMs, psdEOur], yMin: -60, yMax: 0, yTicks: [-50, -40, -30, -20, -10, 0] }));
makePanel({ cl: 540, l: 603, r: 1043, t: 224, b: 405 }, Object.assign({}, rightCommon, {
  values: [psdNOrig, psdNMsf, psdNStk, psdNMs, psdNOur], yMin: -50, yMax: 1, yTicks: [-40, -30, -20, -10, 0] }));
makePanel({ cl: 540, l: 603, r: 1043, t: 404, b: 568 }, Object.assign({}, rightCommon, {
  values: [psdUOrig, psdUMsf, psdUStk, psdUMs, psdUOur], yMin: -22, yMax: 12, yTicks: [-20, -10, 0, 10],
  xTitle: '(b)  Fequency (Hz)' }));
</script>
</body>
</html>
